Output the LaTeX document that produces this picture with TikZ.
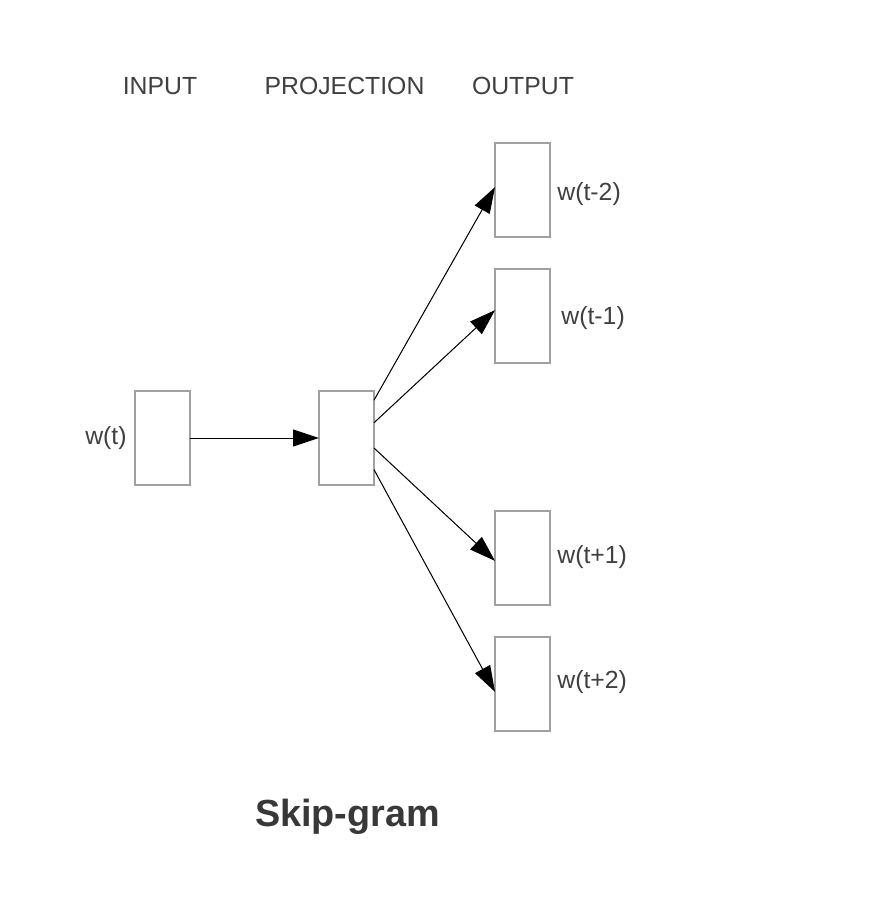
\documentclass[tikz,border=0pt]{standalone}
\usepackage{fontspec}
\setmainfont{Liberation Sans}
\usetikzlibrary{positioning,arrows.meta}
\definecolor{boxgray}{HTML}{A0A0A0}
\definecolor{txtgray}{HTML}{404040}
\begin{document}
\begin{tikzpicture}[x=0.5pt,y=-0.5pt,
    box/.style={draw=boxgray, line width=0.6pt, minimum width=27.5pt, minimum height=47pt, inner sep=0pt, outer sep=0pt},
    lbl/.style={text=txtgray, inner sep=0pt, font=\fontsize{12.4}{14}\selectfont},
    link/.style={-{Triangle[length=13pt,width=8.5pt]}, line width=0.5pt, draw=black, fill=black}]
\useasboundingbox (0,0) rectangle (878,908);
\def\xout{522.5}
\node[lbl] (hin) at (160,86) {INPUT};
\node[lbl] (hproj) at (344.5,86) {PROJECTION};
\node[lbl] (hout) at (523,86) {OUTPUT};
\node[box] (in) at (162.5,438) {};
\node[box] (proj) at (346.5,438) {};
\foreach \n/\y in {o1/190,o2/316,o3/558,o4/684} {
    \node[box] (\n) at (\xout,\y) {};
}
\node[lbl, left=4pt of in] (win) {w(t)};
\node[lbl, right=3.5pt of o1, yshift=-2pt] (wo1) {w(t-2)};
\node[lbl, right=5.5pt of o2, yshift=-1pt] (wo2) {w(t-1)};
\node[lbl, right=3.5pt of o3, yshift=0.5pt] (wo3) {w(t+1)};
\node[lbl, right=3.5pt of o4, yshift=1pt] (wo4) {w(t+2)};
\draw[link] (in.east) -- (proj.west);
\foreach \a/\n/\b in {54/o1/174,29/o2/168,340/o3/186,311/o4/196} {
    \draw[link] (proj.\a) -- (\n.\b);
}
\node[lbl, font=\fontsize{18.9}{22}\selectfont\bfseries, text=black!78] (title) at (347.5,817) {Skip-gram};
\end{tikzpicture}
\end{document}
